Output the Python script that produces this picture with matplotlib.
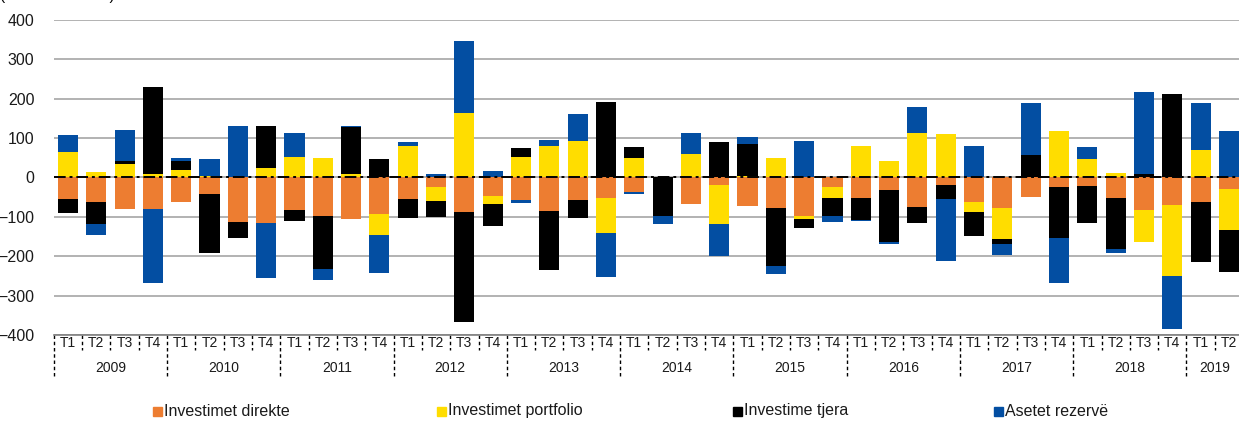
import numpy as np
import matplotlib
matplotlib.use('Agg')
import matplotlib.pyplot as plt
from matplotlib.patches import Rectangle

plt.rcParams['font.family'] = ['Liberation Sans', 'DejaVu Sans']

years = ['2009', '2010', '2011', '2012', '2013', '2014', '2015', '2016', '2017', '2018', '2019']
quarters = ['T1', 'T2', 'T3', 'T4'] * 10 + ['T1', 'T2']

# flows by quarter, million euro
direkte = [-55, -63, -80, -79, -61, -42, -112, -116, -82, -99, -106, -92,
           -55, -24, -88, -46, -58, -85, -57, -53, -38, 0, -67, -19,
           -73, -77, -98, -24, -53, -31, -74, -20, -62, -77, -50, -24,
           -22, -52, -82, -71, -61, -29]
portfolio = [65, 14, 34, 10, 19, 4, -1, 25, 53, 50, 8, -55,
             80, -36, 163, -22, 53, 81, 92, -88, 49, 2, 59, -100,
             4, 50, -8, -29, 80, 41, 114, 110, -25, -79, 0, 117,
             47, 11, -81, -179, 70, -104]
tjera = [-36, -56, 7, 221, 23, -149, -41, 106, -28, -133, 120, 48,
         -48, -41, -280, -55, 21, -150, -46, 192, 28, -98, 0, 91,
         82, -148, -22, -45, -55, -133, -42, -34, -62, -13, 58, -130,
         -93, -129, 10, 213, -153, -108]
rezerve = [43, -26, 80, -190, 8, 43, 131, -139, 61, -29, 2, -96,
           9, 8, 184, 16, -6, 15, 69, -112, -5, -21, 53, -81,
           17, -19, 92, -16, -3, -5, 64, -158, 81, -29, 130, -113,
           31, -11, 208, -136, 118, 119]

series = [
    ('Investimet direkte', direkte, '#ED7D31'),
    ('Investimet portfolio', portfolio, '#FFDD00'),
    ('Investime tjera', tjera, '#000000'),
    ('Asetet rezervë', rezerve, '#034EA2'),
]

x = np.arange(len(quarters))
width = 0.71

fig = plt.figure(figsize=(12.39, 4.22), dpi=100)
ax = fig.add_axes([0.0434, 0.2062, 0.9599, 0.7464])

# stack positive and negative parts separately
pos_base = np.zeros(len(x))
neg_base = np.zeros(len(x))
for name, vals, color in series:
    v = np.array(vals, dtype=float)
    pos = np.where(v > 0, v, 0)
    neg = np.where(v < 0, v, 0)
    ax.bar(x, pos, width, bottom=pos_base, color=color, zorder=2)
    ax.bar(x, neg, width, bottom=neg_base, color=color, zorder=2)
    pos_base += pos
    neg_base += neg

ax.axhline(0, color='black', lw=1.4, ls=(0, (6, 2, 1.5, 2)), zorder=4)

ax.set_xlim(-0.5, len(x) - 0.5)
ax.set_ylim(-400, 400)
ax.set_yticks(np.arange(-400, 401, 100))
ax.grid(axis='y', color='#A6A6A6', lw=1.2, zorder=0)
for s in ['top', 'right', 'left']:
    ax.spines[s].set_visible(False)
ax.spines['bottom'].set_color('#7F7F7F')
ax.spines['bottom'].set_linewidth(1.2)
ax.tick_params(axis='y', length=0, pad=14, labelsize=11.5, colors='#1a1a1a')
ax.tick_params(axis='x', length=0, labelbottom=False)

# two-level category axis: quarters, then years
xt = ax.get_xaxis_transform()
for i, q in enumerate(quarters):
    ax.text(i, -0.025, q, transform=xt, ha='center', va='center',
            fontsize=10, color='#1a1a1a')
for k in range(len(x) + 1):
    edge = k - 0.5
    long = (k % 4 == 0)
    ax.plot([edge, edge], [0, -0.133 if long else -0.048], transform=xt,
            color='black', lw=1.0, ls=(0, (2.5, 2)), clip_on=False)
for j, yr in enumerate(years):
    start = j * 4
    end = min(start + 4, len(x))
    ax.text((start + end - 1) / 2, -0.105, yr, transform=xt, ha='center',
            va='center', fontsize=10, color='#1a1a1a')

fig.text(0.0, 1.0, '(në milionë euro)', fontsize=11, ha='left', va='baseline')

# legend
for (name, vals, color), lx in zip(series, [153, 437, 733, 994]):
    fig.patches.append(Rectangle((lx / 1239, 1 - 416 / 422), 9 / 1239, 9 / 422,
                                 transform=fig.transFigure, color=color))
    fig.text((lx + 11) / 1239, 1 - 411 / 422, name, fontsize=11.5,
             ha='left', va='center', color='#1a1a1a')

fig.savefig('out.png', dpi=100)
